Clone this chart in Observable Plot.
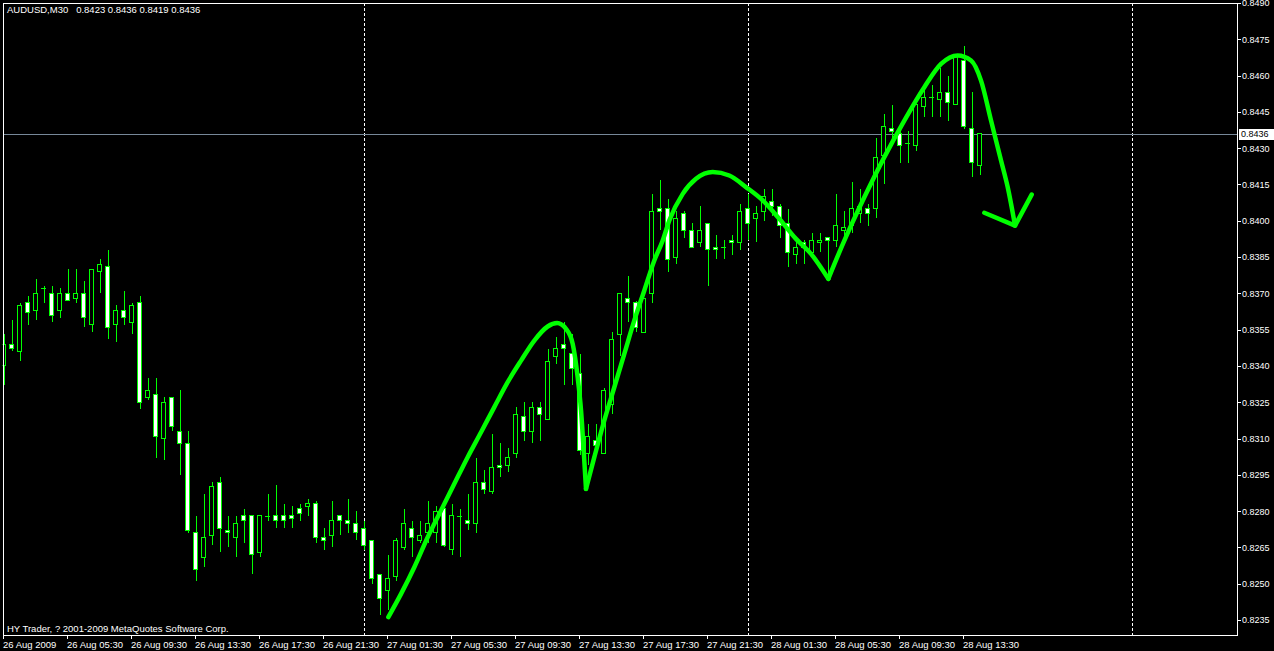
<!DOCTYPE html>
<html><head><meta charset="utf-8">
<script src="https://cdn.jsdelivr.net/npm/d3@7"></script>
<script src="https://cdn.jsdelivr.net/npm/@observablehq/plot@0.6"></script>
<style>html,body{margin:0;padding:0;background:#000;overflow:hidden}</style>
</head><body><div id="chart"></div>
<script>
const header = "AUDUSD,M30\u00a0\u00a0 0.8423 0.8436 0.8419 0.8436";
const copyright = "HY Trader, ? 2001-2009 MetaQuotes Software Corp.";

const open = [0.8340,0.8349,0.8346,0.8366,0.8363,0.8372,0.8370,0.8363,0.8370,0.8368,
0.8370,0.8357,0.8379,0.8381,0.8357,0.8363,0.8358,0.8366,0.8327,0.8328,
0.8310,0.8327,0.8313,0.8308,0.8271,0.8261,0.8270,0.8292,0.8272,0.8269,
0.8278,0.8278,0.8263,0.8278,0.8278,0.8278,0.8278,0.8281,0.8282,0.8283,
0.8269,0.8270,0.8278,0.8276,0.8275,0.8273,0.8268,0.8254,0.8247,0.8253,
0.8265,0.8273,0.8268,0.8271,0.8271,0.8281,0.8264,0.8278,0.8276,0.8275,
0.8292,0.8288,0.8299,0.8299,0.8304,0.8319,0.8313,0.8323,0.8318,0.8344,
0.8349,0.8345,0.8337,0.8304,0.8309,0.8304,0.8324,0.8353,0.8368,0.8366,
0.8354,0.8370,0.8405,0.8405,0.8385,0.8403,0.8396,0.8391,0.8399,0.8389,
0.8389,0.8392,0.8391,0.8405,0.8401,0.8404,0.8408,0.8406,0.8399,0.8386,
0.8391,0.8387,0.8391,0.8393,0.8392,0.8396,0.8398,0.8403,0.8405,0.8405,
0.8427,0.8438,0.8436,0.8432,0.8431,0.8447,0.8451,0.8450,0.8453,0.8448,
0.8466,0.8438,0.8423];
const high = [0.8353,0.8359,0.8366,0.8369,0.8376,0.8373,0.8373,0.8372,0.8380,0.8380,
0.8375,0.8380,0.8384,0.8388,0.8365,0.8371,0.8366,0.8369,0.8335,0.8335,
0.8327,0.8327,0.8330,0.8313,0.8278,0.8287,0.8292,0.8294,0.8278,0.8278,
0.8281,0.8278,0.8278,0.8287,0.8291,0.8283,0.8282,0.8283,0.8285,0.8284,
0.8273,0.8284,0.8278,0.8285,0.8280,0.8276,0.8268,0.8254,0.8262,0.8269,
0.8281,0.8276,0.8276,0.8284,0.8282,0.8281,0.8283,0.8281,0.8287,0.8302,
0.8297,0.8312,0.8308,0.8306,0.8323,0.8325,0.8325,0.8325,0.8347,0.8352,
0.8358,0.8353,0.8345,0.8316,0.8316,0.8331,0.8354,0.8370,0.8377,0.8367,
0.8368,0.8411,0.8417,0.8409,0.8404,0.8404,0.8399,0.8406,0.8399,0.8394,
0.8392,0.8394,0.8407,0.8411,0.8406,0.8413,0.8413,0.8407,0.8405,0.8392,
0.8392,0.8395,0.8395,0.8393,0.8411,0.8404,0.8416,0.8413,0.8407,0.8434,
0.8444,0.8448,0.8437,0.8437,0.8448,0.8454,0.8456,0.8463,0.8460,0.8469,
0.8472,0.8453,0.8436];
const low = [0.8332,0.8346,0.8342,0.8357,0.8359,0.8366,0.8358,0.8360,0.8367,0.8366,
0.8356,0.8354,0.8370,0.8351,0.8350,0.8357,0.8353,0.8322,0.8326,0.8302,
0.8301,0.8313,0.8295,0.8271,0.8251,0.8257,0.8266,0.8263,0.8265,0.8261,
0.8267,0.8254,0.8261,0.8276,0.8273,0.8273,0.8273,0.8276,0.8278,0.8267,
0.8264,0.8265,0.8270,0.8271,0.8268,0.8264,0.8250,0.8237,0.8239,0.8251,
0.8264,0.8261,0.8267,0.8267,0.8267,0.8265,0.8262,0.8261,0.8272,0.8271,
0.8287,0.8287,0.8294,0.8296,0.8302,0.8309,0.8308,0.8309,0.8318,0.8341,
0.8332,0.8332,0.8303,0.8299,0.8303,0.8304,0.8320,0.8344,0.8358,0.8354,
0.8354,0.8366,0.8396,0.8379,0.8382,0.8393,0.8389,0.8389,0.8373,0.8384,
0.8384,0.8386,0.8388,0.8392,0.8391,0.8400,0.8402,0.8393,0.8381,0.8382,
0.8382,0.8386,0.8387,0.8378,0.8389,0.8392,0.8395,0.8399,0.8398,0.8401,
0.8415,0.8433,0.8424,0.8424,0.8429,0.8443,0.8443,0.8443,0.8441,0.8448,
0.8438,0.8418,0.8419];
const close = [0.8349,0.8347,0.8365,0.8362,0.8370,0.8372,0.8361,0.8370,0.8367,0.8370,
0.8360,0.8380,0.8382,0.8356,0.8363,0.8360,0.8365,0.8325,0.8330,0.8311,
0.8325,0.8315,0.8308,0.8272,0.8256,0.8269,0.8290,0.8273,0.8271,0.8275,
0.8276,0.8262,0.8278,0.8278,0.8276,0.8276,0.8277,0.8279,0.8283,0.8269,
0.8268,0.8276,0.8276,0.8275,0.8271,0.8266,0.8252,0.8244,0.8252,0.8268,
0.8275,0.8269,0.8270,0.8275,0.8280,0.8266,0.8278,0.8278,0.8275,0.8292,
0.8289,0.8298,0.8298,0.8302,0.8320,0.8313,0.8323,0.8320,0.8342,0.8347,
0.8347,0.8339,0.8305,0.8311,0.8307,0.8330,0.8351,0.8370,0.8366,0.8356,
0.8368,0.8404,0.8404,0.8384,0.8401,0.8396,0.8389,0.8396,0.8388,0.8388,
0.8389,0.8391,0.8404,0.8399,0.8403,0.8410,0.8406,0.8398,0.8387,0.8389,
0.8389,0.8392,0.8392,0.8392,0.8398,0.8397,0.8405,0.8406,0.8403,0.8426,
0.8439,0.8437,0.8431,0.8432,0.8448,0.8451,0.8451,0.8453,0.8449,0.8468,
0.8439,0.8424,0.8436];

const xTickIdx = [0,8,16,24,32,40,48,56,64,72,80,88,96,104,112,120];
const xTickLabels = ["26 Aug 2009","26 Aug 05:30","26 Aug 09:30","26 Aug 13:30","26 Aug 17:30","26 Aug 21:30",
"27 Aug 01:30","27 Aug 05:30","27 Aug 09:30","27 Aug 13:30","27 Aug 17:30","27 Aug 21:30",
"28 Aug 01:30","28 Aug 05:30","28 Aug 09:30","28 Aug 13:30"];
const yTicks = [0.8235,0.8250,0.8265,0.8280,0.8295,0.8310,0.8325,0.8340,0.8355,0.8370,
0.8385,0.8400,0.8415,0.8430,0.8445,0.8460,0.8475,0.8490];
const separatorIdx = [45, 93, 141];
const bidPrice = 0.8436;

const trendIdx = [48.04,49.63,51.29,52.96,54.63,56.29,57.96,59.63,61.29,62.96,64.63,66.29,67.96,69.13,70.25,71.09,71.71,72.13,72.46,72.75,
72.75,73.79,75.04,76.29,77.54,78.79,80.04,81.29,82.34,83.16,84.84,86.5,88.59,90.66,92.75,94.84,96.91,99.0,100.88,103.04,
103.04,105.04,107.54,110.04,112.54,115.04,117.13,119.21,120.88,122.13,123.38,124.63,125.46,126.38];
const trendPrice = [0.82364,0.82460,0.82570,0.82694,0.82805,0.82915,0.83025,0.83128,0.83232,0.83335,0.83424,0.83507,0.83565,0.83579,0.83555,0.83493,0.83355,0.83218,0.83053,0.82894,
0.82894,0.83025,0.83177,0.83314,0.83452,0.83590,0.83714,0.83838,0.83920,0.84003,0.84113,0.84175,0.84203,0.84189,0.84141,0.84086,0.84010,0.83927,0.83865,0.83762,
0.83762,0.83920,0.84099,0.84265,0.84416,0.84554,0.84650,0.84685,0.84664,0.84581,0.84416,0.84251,0.84141,0.83982];
const trendSeg = [1,1,1,1,1,1,1,1,1,1,1,1,1,1,1,1,1,1,1,1,
2,2,2,2,2,2,2,2,2,2,2,2,2,2,2,2,2,2,2,2,
3,3,3,3,3,3,3,3,3,3,3,3,3,3];
const arrowIdx = [122.54, 126.38, 128.46];
const arrowPrice = [0.84035, 0.83982, 0.84110];

const bars = open.map((o, i) => ({i, o, h: high[i], l: low[i], c: close[i]}));
const trend = trendIdx.map((x, k) => ({x, p: trendPrice[k], seg: trendSeg[k]}));
const arrow = arrowIdx.map((x, k) => ({x, p: arrowPrice[k]}));
const labelOf = new Map(xTickIdx.map((d, k) => [d, xTickLabels[k]]));

const LIME = "#00ff00";
const FONT = "'Liberation Sans', Arial, sans-serif";
const W = 0.25;

const chart = Plot.plot({
  width: 1274, height: 651,
  marginLeft: 2.5, marginTop: 2.5, marginRight: 37.5, marginBottom: 16.5,
  style: {background: "#000", color: "#fff", fontFamily: FONT, fontSize: "9px", overflow: "visible"},
  x: {type: "linear", domain: [-0.125, 154.125]},
  y: {type: "linear", domain: [0.822902, 0.849017]},
  marks: [
    Plot.ruleX(separatorIdx, {x: d => d, stroke: "#fff", strokeDasharray: "3,2", shapeRendering: "crispEdges"}),
    Plot.ruleY([bidPrice], {y: d => d, stroke: "#778899", shapeRendering: "crispEdges"}),
    Plot.ruleX(bars, {x: "i", y1: "l", y2: "h", stroke: LIME, clip: true, shapeRendering: "crispEdges"}),
    Plot.rect(bars.filter(d => d.c > d.o), {x1: d => d.i - W, x2: d => d.i + W, y1: "o", y2: "c", fill: "#000", stroke: LIME, clip: true, shapeRendering: "crispEdges"}),
    Plot.rect(bars.filter(d => d.c < d.o), {x1: d => d.i - W, x2: d => d.i + W, y1: "o", y2: "c", fill: "#fff", stroke: LIME, clip: true, shapeRendering: "crispEdges"}),
    Plot.ruleY(bars.filter(d => d.c === d.o), {x1: d => d.i - W - 0.0625, x2: d => d.i + W + 0.0625, y: "o", stroke: LIME, clip: true, shapeRendering: "crispEdges"}),
    Plot.line(trend, {x: "x", y: "p", z: "seg", curve: "monotone-x", stroke: LIME, strokeWidth: 4.5, strokeLinecap: "round", strokeLinejoin: "round"}),
    Plot.line(arrow, {x: "x", y: "p", stroke: LIME, strokeWidth: 4.5, strokeLinecap: "round", strokeLinejoin: "round"}),
    Plot.frame({stroke: "#fff", shapeRendering: "crispEdges"}),
    Plot.axisY(yTicks, {anchor: "right", tickSize: 3, tickPadding: 2, tickFormat: d => d.toFixed(4), fontSize: 9, fill: "#fff", stroke: "#fff", shapeRendering: "crispEdges"}),
    Plot.axisX(xTickIdx, {anchor: "bottom", tickSize: 4, tickPadding: 2, tickFormat: d => labelOf.get(d), textAnchor: "start", dx: -1, fontSize: 9.5, fill: "#fff", stroke: "#fff", shapeRendering: "crispEdges"}),
    Plot.text([header], {frameAnchor: "top-left", dx: 4, dy: 3, lineAnchor: "top", textAnchor: "start", fill: "#fff", fontSize: 9.5}),
    Plot.text([copyright], {frameAnchor: "bottom-left", dx: 4, dy: -3, lineAnchor: "bottom", textAnchor: "start", fill: "#fff", fontSize: 9.5})
  ]
});

const yy = chart.scale("y").apply(bidPrice);
const svg = d3.select(chart);
svg.append("rect").attr("x", 1238.5).attr("y", Math.round(yy) - 5).attr("width", 36).attr("height", 11)
  .attr("fill", "#fff").attr("shape-rendering", "crispEdges");
svg.append("text").attr("x", 1241).attr("y", yy).attr("dy", "0.35em").attr("fill", "#000")
  .attr("text-anchor", "start").attr("font-size", 9).attr("font-family", FONT).text(bidPrice.toFixed(4));

document.getElementById("chart").appendChild(chart);
</script>
</body></html>
